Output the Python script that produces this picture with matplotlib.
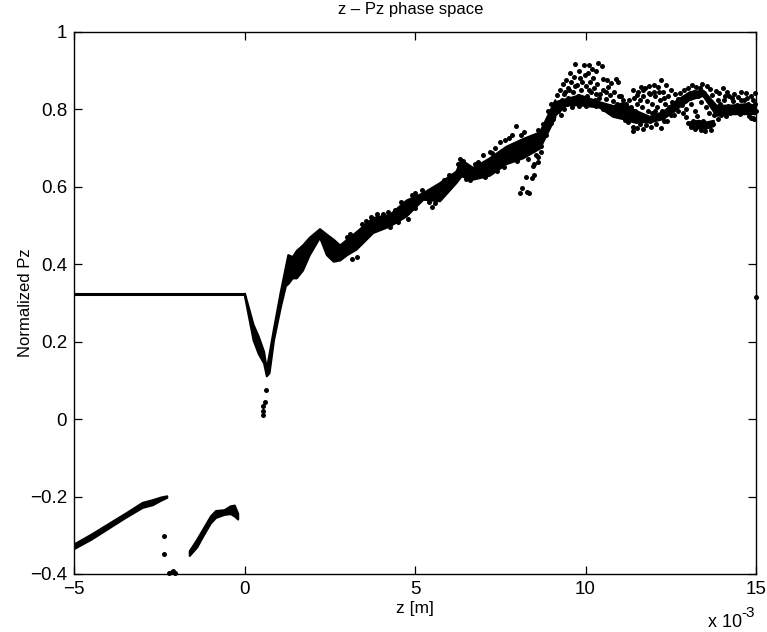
import numpy as np
import matplotlib
matplotlib.use("Agg")
import matplotlib.pyplot as plt

plt.rcParams['font.family'] = ['Liberation Sans', 'DejaVu Sans']

# all z values in units of 1e-3 m
flat_z = [-5.0, 0.0]
flat_pz = [0.322, 0.322]

# lower left arms
arm1_z = [-5.0, -4.5, -4.0, -3.5, -3.0, -2.7, -2.45, -2.28]
arm1_top = [-0.322, -0.297, -0.270, -0.243, -0.215, -0.208, -0.201, -0.198]
arm1_bot = [-0.334, -0.310, -0.282, -0.254, -0.228, -0.221, -0.209, -0.202]

arm2_z = [-1.62, -1.4, -1.2, -1.0, -0.85, -0.6, -0.42, -0.3, -0.2]
arm2_top = [-0.340, -0.310, -0.280, -0.250, -0.236, -0.234, -0.224, -0.222, -0.243]
arm2_bot = [-0.352, -0.330, -0.298, -0.268, -0.254, -0.246, -0.244, -0.250, -0.258]

# dense band from the dip up to z = 9
band_z = [0.0, 0.25, 0.4, 0.56, 0.64, 0.72, 0.85, 1.05, 1.2, 1.27, 1.4, 1.52, 1.7, 1.9, 2.2, 2.4,
          2.6, 2.79, 3.0, 3.27, 3.76, 4.25, 4.74, 5.23, 5.72, 6.2, 6.35, 6.7, 7.18, 7.67, 8.16, 8.65, 9.1]
band_top = [0.325, 0.245, 0.215, 0.175, 0.130, 0.170, 0.235, 0.330, 0.395, 0.425, 0.420, 0.436, 0.450, 0.470, 0.492, 0.478,
            0.465, 0.450, 0.465, 0.484, 0.521, 0.529, 0.566, 0.585, 0.611, 0.641, 0.670, 0.650, 0.675, 0.705, 0.725, 0.742, 0.825]
band_bot = [0.318, 0.205, 0.170, 0.145, 0.112, 0.120, 0.205, 0.290, 0.345, 0.350, 0.365, 0.365, 0.385, 0.425, 0.470, 0.425,
            0.408, 0.411, 0.425, 0.439, 0.482, 0.499, 0.525, 0.568, 0.564, 0.611, 0.628, 0.620, 0.630, 0.660, 0.675, 0.700, 0.780]

# dense ridges of the noisy part
ridge_z = [9.1, 9.43, 9.82, 10.4, 10.8, 11.1, 11.4, 11.88, 12.27, 12.66, 13.05, 13.44, 13.83, 14.22, 14.7, 15.0]
ridge_top = [0.820, 0.828, 0.838, 0.820, 0.810, 0.818, 0.800, 0.782, 0.795, 0.824, 0.846, 0.850, 0.811, 0.811, 0.815, 0.811]
ridge_bot = [0.785, 0.812, 0.812, 0.806, 0.782, 0.776, 0.768, 0.768, 0.776, 0.802, 0.826, 0.836, 0.785, 0.789, 0.789, 0.789]

low_z = [13.05, 13.3, 13.55, 13.75]
low_top = [0.768, 0.772, 0.768, 0.772]
low_bot = [0.756, 0.752, 0.752, 0.758]

# dip tail and lower strays
stray = [(0.53, 0.010), (0.53, 0.020), (0.55, 0.035), (0.60, 0.045), (0.62, 0.075), (-2.35, -0.302), (-2.35, -0.349),
         (-2.14, -0.395), (-2.05, -0.397), (-2.2, -0.397), (-2.1, -0.392), (3.15, 0.414), (3.3, 0.418), (4.27, 0.497),
         (5.5, 0.548), (8.08, 0.585), (8.14, 0.597), (8.34, 0.585), (8.28, 0.586), (8.26, 0.626), (8.44, 0.622), (8.5, 0.630),
         (8.46, 0.653), (8.60, 0.665), (8.55, 0.682), (8.70, 0.690), (8.62, 0.676), (8.5, 0.66), (15.0, 0.315)]

# points on the edges of the band
edge_cloud = [(3.0, 0.470), (3.1, 0.478), (3.45, 0.505), (3.55, 0.512), (3.7, 0.522), (3.9, 0.530), (4.05, 0.530), (4.2, 0.535),
              (4.4, 0.540), (4.6, 0.561), (4.9, 0.578), (5.0, 0.585), (5.2, 0.592), (4.5, 0.508), (4.8, 0.518), (5.0, 0.545),
              (5.4, 0.560), (5.6, 0.558), (5.85, 0.618), (6.0, 0.630), (6.1, 0.615), (6.25, 0.660), (6.32, 0.672), (6.42, 0.668),
              (6.5, 0.620), (6.6, 0.618), (6.75, 0.660), (6.85, 0.665), (7.0, 0.682), (7.05, 0.625), (7.2, 0.690), (7.25, 0.688),
              (7.35, 0.700), (7.4, 0.640), (7.5, 0.716), (7.6, 0.652), (7.65, 0.722), (7.75, 0.725), (7.85, 0.735), (7.97, 0.758),
              (8.0, 0.668), (8.1, 0.735), (8.2, 0.742), (8.3, 0.672), (8.45, 0.695), (8.6, 0.748), (8.75, 0.762), (8.9, 0.795),
              (9.0, 0.815), (8.85, 0.735), (9.0, 0.765), (8.7, 0.705)]

# noisy cloud z = 9 to 11
mid_cloud = [(9.05, 0.775), (9.1, 0.805), (9.15, 0.838), (9.18, 0.795), (9.22, 0.815), (9.25, 0.850), (9.28, 0.785), (9.3, 0.825),
             (9.33, 0.865), (9.36, 0.800), (9.38, 0.840), (9.42, 0.875), (9.45, 0.815), (9.48, 0.855), (9.5, 0.830), (9.55, 0.895),
             (9.58, 0.870), (9.6, 0.805), (9.62, 0.845), (9.66, 0.885), (9.7, 0.917), (9.72, 0.820), (9.75, 0.862), (9.78, 0.835),
             (9.8, 0.900), (9.82, 0.808), (9.85, 0.880), (9.88, 0.850), (9.92, 0.825), (9.95, 0.914), (9.98, 0.890), (10.0, 0.860),
             (10.02, 0.810), (10.05, 0.835), (10.08, 0.895), (10.1, 0.915), (10.12, 0.872), (10.15, 0.845), (10.18, 0.818), (10.2, 0.905),
             (10.22, 0.880), (10.25, 0.855), (10.28, 0.825), (10.3, 0.808), (10.32, 0.898), (10.35, 0.865), (10.38, 0.920), (10.42, 0.840),
             (10.45, 0.815), (10.48, 0.912), (10.5, 0.878), (10.52, 0.850), (10.55, 0.805), (10.6, 0.828), (10.62, 0.875), (10.65, 0.858),
             (10.7, 0.810), (10.72, 0.838), (10.75, 0.868), (10.78, 0.800), (10.8, 0.822), (10.85, 0.845), (10.88, 0.878), (10.9, 0.795),
             (10.92, 0.815), (10.95, 0.872), (10.98, 0.835), (11.0, 0.790), (11.02, 0.810), (11.06, 0.782), (11.1, 0.825), (11.12, 0.800),
             (9.4, 0.845), (9.52, 0.850), (9.68, 0.860), (9.9, 0.870), (10.1, 0.850), (10.3, 0.840), (10.4, 0.830), (10.6, 0.845),
             (10.82, 0.795), (10.95, 0.785), (11.05, 0.835), (10.5, 0.800)]

# noisy cloud z = 11 to 13
right_cloud = [(11.15, 0.772), (11.18, 0.815), (11.22, 0.790), (11.25, 0.768), (11.28, 0.825), (11.32, 0.805), (11.35, 0.780),
               (11.38, 0.755), (11.4, 0.745), (11.42, 0.830), (11.45, 0.795), (11.48, 0.770), (11.5, 0.815), (11.52, 0.752),
               (11.55, 0.845), (11.58, 0.785), (11.6, 0.762), (11.62, 0.858), (11.65, 0.805), (11.68, 0.750), (11.7, 0.835),
               (11.72, 0.775), (11.75, 0.855), (11.78, 0.760), (11.8, 0.822), (11.83, 0.795), (11.86, 0.860), (11.88, 0.770),
               (11.9, 0.840), (11.93, 0.755), (11.96, 0.815), (12.0, 0.862), (12.02, 0.775), (12.05, 0.835), (12.08, 0.762),
               (12.1, 0.805), (12.12, 0.858), (12.15, 0.782), (12.18, 0.825), (12.2, 0.752), (12.22, 0.875), (12.25, 0.795),
               (12.28, 0.845), (12.3, 0.770), (12.32, 0.815), (12.36, 0.862), (12.4, 0.790), (12.42, 0.835), (12.45, 0.805),
               (12.5, 0.850), (12.52, 0.785), (12.55, 0.820), (12.58, 0.798), (12.62, 0.840), (12.65, 0.808), (12.7, 0.828),
               (12.72, 0.795), (12.78, 0.842), (12.82, 0.812), (12.88, 0.850), (12.92, 0.822), (12.96, 0.800),
               (11.4, 0.850), (11.5, 0.838), (11.7, 0.850), (11.85, 0.842), (12.0, 0.845), (12.15, 0.845), (12.3, 0.830), (11.6, 0.825),
               (11.95, 0.790), (12.05, 0.795), (12.4, 0.770), (12.6, 0.785), (12.85, 0.790), (12.95, 0.780)]

# noisy cloud z = 13 to 15
far_cloud = [(13.0, 0.855), (13.02, 0.765), (13.05, 0.830), (13.08, 0.755), (13.1, 0.815), (13.12, 0.862), (13.15, 0.770),
             (13.18, 0.845), (13.2, 0.795), (13.22, 0.750), (13.25, 0.858), (13.28, 0.782), (13.3, 0.835), (13.32, 0.760),
             (13.35, 0.855), (13.38, 0.748), (13.4, 0.820), (13.42, 0.865), (13.45, 0.770), (13.48, 0.842), (13.5, 0.745),
             (13.52, 0.805), (13.55, 0.860), (13.58, 0.758), (13.6, 0.825), (13.62, 0.790), (13.65, 0.852), (13.68, 0.748),
             (13.7, 0.810), (13.72, 0.838), (13.75, 0.762), (13.78, 0.785), (13.82, 0.848), (13.85, 0.800), (13.88, 0.775),
             (13.92, 0.842), (13.95, 0.815), (13.98, 0.785), (14.02, 0.855), (14.05, 0.825), (14.08, 0.795), (14.12, 0.782),
             (14.15, 0.845), (14.18, 0.810), (14.22, 0.835), (14.25, 0.790), (14.28, 0.802), (14.32, 0.822), (14.36, 0.840),
             (14.4, 0.795), (14.45, 0.812), (14.48, 0.832), (14.52, 0.788), (14.56, 0.845), (14.6, 0.805), (14.64, 0.825),
             (14.68, 0.795), (14.72, 0.842), (14.76, 0.815), (14.8, 0.782), (14.84, 0.835), (14.88, 0.805), (14.92, 0.778),
             (14.96, 0.842), (14.98, 0.815), (15.0, 0.795), (13.9, 0.825), (14.1, 0.835), (14.3, 0.830), (14.55, 0.825), (14.75, 0.830),
             (14.9, 0.825), (14.85, 0.778), (14.95, 0.775)]

x_ticks = [-5, 0, 5, 10, 15]
y_ticks = [-0.4, -0.2, 0, 0.2, 0.4, 0.6, 0.8, 1]
y_labels = ['\u22120.4', '\u22120.2', '0', '0.2', '0.4', '0.6', '0.8', '1']

fig = plt.figure(figsize=(7.67, 6.32), dpi=100)
ax = fig.add_axes([74 / 767, 1 - 574 / 632, 682 / 767, 542 / 632])

ax.plot(flat_z, flat_pz, color='k', lw=2.2, solid_capstyle='butt')
for z, top, bot in [(arm1_z, arm1_top, arm1_bot), (arm2_z, arm2_top, arm2_bot), (band_z, band_top, band_bot),
                    (ridge_z, ridge_top, ridge_bot), (low_z, low_top, low_bot)]:
    ax.fill_between(z, bot, top, color='k', lw=1.5)

for cloud in [stray, edge_cloud, mid_cloud, right_cloud, far_cloud]:
    pts = np.array(cloud)
    ax.plot(pts[:, 0], pts[:, 1], 'o', color='k', ms=3.6, mew=0, clip_on=False)

ax.set_xlim(-5, 15)
ax.set_ylim(-0.4, 1)
ax.set_xticks(x_ticks)
ax.set_yticks(y_ticks)
ax.set_yticklabels(y_labels)
ax.tick_params(direction='in', top=True, right=True, length=6, width=0.9, labelsize=13.5, pad=5)
for s in ax.spines.values():
    s.set_linewidth(1.0)

ax.set_title('z \u2013 Pz phase space', fontsize=12, pad=13, x=0.493)
ax.set_xlabel('z [m]', fontsize=12.5, labelpad=2)
ax.set_ylabel('Normalized Pz', fontsize=12, labelpad=-2)
fig.text(742 / 767, 1 - 627 / 632, 'x 10', fontsize=13, ha='right', va='baseline')
fig.text(755 / 767, 1 - 617 / 632, '-3', fontsize=11, ha='right', va='baseline')

fig.savefig('out.png', dpi=100)
